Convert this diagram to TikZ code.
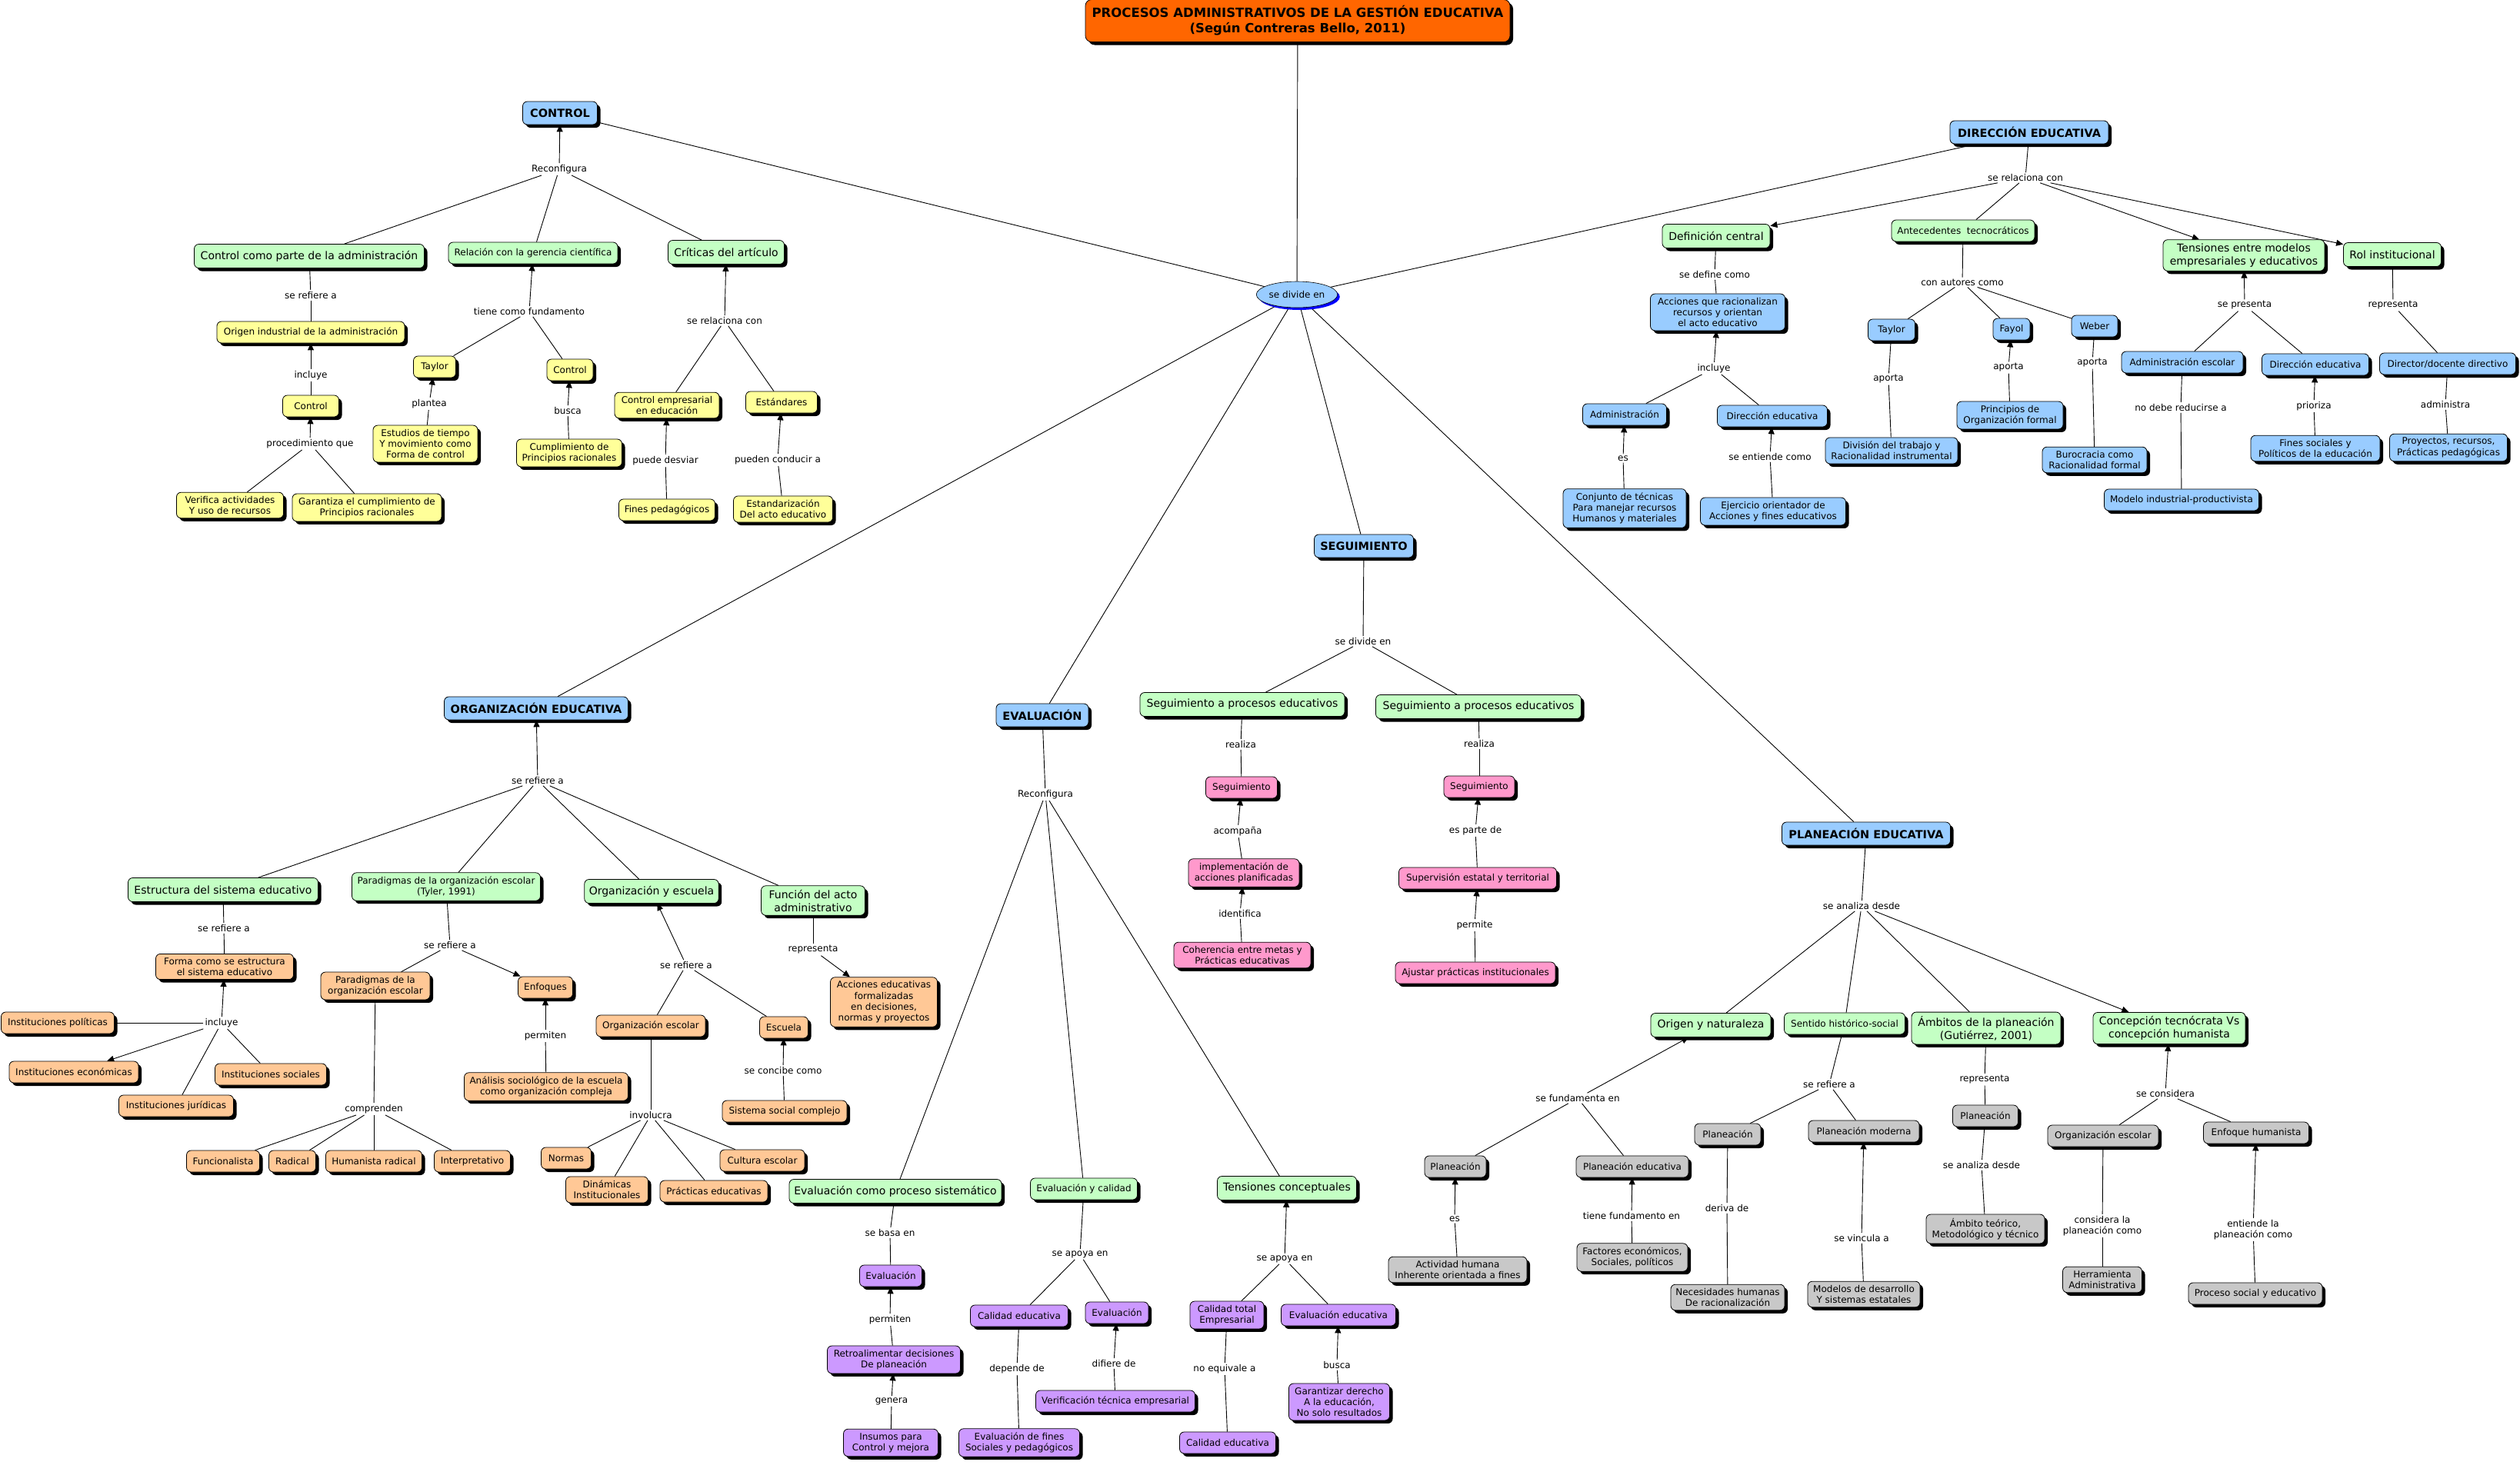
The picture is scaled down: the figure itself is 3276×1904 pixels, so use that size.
\documentclass[tikz,border=0pt]{standalone}
\usepackage{fontspec}
\setmainfont{DejaVu Sans}
\usetikzlibrary{shapes.geometric,arrows.meta,shadows,backgrounds}
\definecolor{cB}{HTML}{99CCFF}
\definecolor{cG}{HTML}{C4FFC4}
\definecolor{cY}{HTML}{FFFF99}
\definecolor{cO}{HTML}{FFC896}
\definecolor{cP}{HTML}{FF99CC}
\definecolor{cV}{HTML}{CC99FF}
\definecolor{cR}{HTML}{C8C8C8}
\definecolor{cT}{HTML}{FF6600}
\newcommand\fsm{\fontsize{12}{14.3}\selectfont}
\newcommand\fbg{\fontsize{14}{17}\selectfont}
\newcommand\fhd{\fontsize{14.5}{17}\selectfont\bfseries}
\newcommand\fti{\fontsize{16.5}{20}\selectfont\bfseries}
\tikzset{
 bx/.style={draw=black, line width=0.8pt, rounded corners=6pt, align=center,
   inner xsep=6pt, inner ysep=5pt, minimum height=28pt, font=\fsm,
   drop shadow={shadow xshift=4pt, shadow yshift=-4pt, opacity=1, fill=black}},
 fB/.style={fill=cB}, fG/.style={fill=cG}, fY/.style={fill=cY}, fO/.style={fill=cO},
 fP/.style={fill=cP}, fV/.style={fill=cV}, fR/.style={fill=cR},
 bg/.style={font=\fbg, minimum height=31pt},
 hd/.style={fill=cB, font=\fhd, minimum height=30pt},
 lbl/.style={font=\fsm, inner sep=2pt, align=center},
 lk/.style={draw=black, line width=0.9pt},
 arr/.style={lk, -{Triangle[length=9pt,width=8pt]}},
}
\newcommand\Nd[6][]{\node[bx,#1,minimum width=#5pt] (#2) at (#3,#4) {#6};}
\newcommand\Lbl[4]{\node[lbl] (#1) at (#2,#3) {#4};}
\newcommand\ConL[2]{\draw[lk] (#1) -- (#2);}
\newcommand\ConA[2]{\draw[arr] (#1) -- (#2);}
\begin{document}
\begin{tikzpicture}[x=1pt,y=-1pt]
\useasboundingbox (0,0) rectangle (3276,1904);
% ---------- title and hub
\node[bx, fill=cT, font=\fti, minimum width=552pt, minimum height=55pt, rounded corners=8pt] (title) at (1687,27) {PROCESOS ADMINISTRATIVOS DE LA GESTIÓN EDUCATIVA\\(Según Contreras Bello, 2011)};
\node[ellipse, draw=black, line width=0.6pt, fill=cB, font=\fsm, inner sep=1pt, minimum width=86pt, minimum height=34pt,
  drop shadow={shadow xshift=3pt, shadow yshift=-3pt, opacity=1, fill=blue}] (div) at (1686,383) {se divide en};
% ---------- main concepts
\Nd[hd]{ctrl}{728}{147}{97}{CONTROL}
\Nd[hd]{dir}{2638}{172}{206}{DIRECCIÓN EDUCATIVA}
\Nd[hd]{org}{697}{921}{239}{ORGANIZACIÓN EDUCATIVA}
\Nd[hd]{eval}{1355}{930}{120}{EVALUACIÓN}
\Nd[hd]{seg}{1773}{710}{129}{SEGUIMIENTO}
\Nd[hd]{plan}{2426}{1084}{219}{PLANEACIÓN EDUCATIVA}
% ---------- CONTROL
\Lbl{lc1}{727}{220}{Reconfigura}
\Nd[fG,bg]{ccpa}{402}{333}{299}{Control como parte de la administración}
\Nd[fG]{crgc}{693}{329}{220}{Relación con la gerencia científica}
\Nd[fG,bg]{ccrit}{944}{328}{151}{Críticas del artículo}
\Lbl{lc2}{404}{384}{se refiere a}
\Nd[fY]{coia}{404}{432}{244}{Origen industrial de la administración}
\Lbl{lc3}{404}{488}{incluye}
\Nd[fY]{cctlA}{404}{528}{73}{Control}
\Lbl{lc4}{403}{577}{procedimiento que}
\Nd[fY]{cver}{299}{657}{139}{Verifica actividades\\Y uso de recursos}
\Nd[fY]{cgar}{477}{660}{194}{Garantiza el cumplimiento de\\Principios racionales}
\Lbl{lc5}{688}{405}{tiene como fundamento}
\Nd[fY]{ctay}{565}{477}{55}{Taylor}
\Nd[fY]{cctlB}{741}{481}{60}{Control}
\Lbl{lc6}{558}{525}{plantea}
\Nd[fY]{cest}{553}{577}{136}{Estudios de tiempo\\Y movimiento como\\Forma de control}
\Lbl{lc7}{738}{534}{busca}
\Nd[fY]{ccum}{740}{589}{137}{Cumplimiento de\\Principios racionales}
\Lbl{lc8}{942}{417}{se relaciona con}
\Nd[fY]{ccee}{867}{527}{136}{Control empresarial\\en educación}
\Nd[fY]{cstd}{1016}{523}{93}{Estándares}
\Lbl{lc9}{865}{599}{puede desviar}
\Nd[fY]{cfp}{867}{663}{125}{Fines pedagógicos}
\Lbl{lc10}{1011}{598}{pueden conducir a}
\Nd[fY]{csta}{1018}{662}{129}{Estandarización\\Del acto educativo}
% ---------- DIRECCION
\Lbl{ld1}{2633}{231}{se relaciona con}
\Nd[fG,bg]{ddef}{2231}{307}{140}{Definición central}
\Nd[fG]{dant}{2552}{300}{186}{Antecedentes\ \ tecnocráticos}
\Nd[fG,bg]{dten}{2917}{332}{210}{Tensiones entre modelos\\empresariales y educativos}
\Nd[fG,bg]{drol}{3110}{331}{127}{Rol institucional}
\Lbl{ld2}{2229}{357}{se define como}
\Nd[fB]{dacc}{2233}{406}{175}{Acciones que racionalizan\\recursos y orientan\\el acto educativo}
\Lbl{ld3}{2228}{479}{incluye}
\Nd[fB]{dadm}{2112}{539}{109}{Administración}
\Nd[fB]{ddire}{2304}{541}{143}{Dirección educativa}
\Lbl{ld4}{2110}{596}{es}
\Nd[fB]{dconj}{2112}{661}{160}{Conjunto de técnicas\\Para manejar recursos\\Humanos y materiales}
\Lbl{ld5}{2301}{594}{se entiende como}
\Nd[fB]{dejer}{2305}{665}{189}{Ejercicio orientador de\\Acciones y fines educativos}
\Lbl{ld6}{2551}{367}{con autores como}
\Nd[fB]{dtay}{2459}{429}{61}{Taylor}
\Nd[fB]{dfay}{2615}{428}{48}{Fayol}
\Nd[fB]{dweb}{2723}{424}{60}{Weber}
\Lbl{ld7}{2455}{493}{aporta}
\Nd[fB]{ddiv}{2459}{586}{172}{División del trabajo y\\Racionalidad instrumental}
\Lbl{ld8}{2611}{478}{aporta}
\Nd[fB]{dpri}{2613}{540}{138}{Principios de\\Organización formal}
\Lbl{ld9}{2720}{472}{aporta}
\Nd[fB]{dbur}{2723}{598}{136}{Burocracia como\\Racionalidad formal}
\Lbl{ld10}{2918}{397}{se presenta}
\Nd[fB]{daes}{2837}{471}{158}{Administración escolar}
\Nd[fB]{ddirB}{3010}{474}{139}{Dirección educativa}
\Lbl{ld11}{2835}{530}{no debe reducirse a}
\Nd[fB]{dmod}{2836}{650}{201}{Modelo industrial-productivista}
\Lbl{ld12}{3008}{528}{prioriza}
\Nd[fB]{dfin}{3010}{583}{168}{Fines sociales y\\Políticos de la educación}
\Lbl{ld13}{3111}{397}{representa}
\Nd[fB]{ddoc}{3182}{473}{177}{Director/docente directivo}
\Lbl{ld14}{3179}{526}{administra}
\Nd[fB]{dpro}{3183}{582}{153}{Proyectos, recursos,\\Prácticas pedagógicas}
% ---------- ORGANIZACION
\Lbl{lo1}{699}{1015}{se refiere a}
\Nd[fG,bg]{oest}{290}{1157}{247}{Estructura del sistema educativo}
\Nd[fG]{opar}{580}{1153}{245}{Paradigmas de la organización escolar\\(Tyler, 1991)}
\Nd[fG,bg]{ooye}{847}{1159}{174}{Organización y escuela}
\Nd[fG,bg]{ofun}{1057}{1171}{135}{Función del acto\\administrativo}
\Lbl{lo2}{291}{1207}{se refiere a}
\Nd[fO]{oforma}{292}{1257}{179}{Forma como se estructura\\el sistema educativo}
\Lbl{lo3}{288}{1330}{incluye}
\Nd[fO]{oipol}{75}{1330}{147}{Instituciones políticas}
\Nd[fO]{oieco}{96}{1394}{168}{Instituciones económicas}
\Nd[fO]{oisoc}{352}{1397}{145}{Instituciones sociales}
\Nd[fO]{oijur}{229}{1438}{149}{Instituciones jurídicas}
\Lbl{lo4}{585}{1229}{se refiere a}
\Nd[fO]{oparB}{488}{1282}{142}{Paradigmas de la\\organización escolar}
\Nd[fO]{oenf}{709}{1284}{71}{Enfoques}
\Lbl{lo5}{709}{1347}{permiten}
\Nd[fO]{oana}{710}{1413}{213}{Análisis sociológico de la escuela\\como organización compleja}
\Lbl{lo6}{486}{1442}{comprenden}
\Nd[fO]{ofunc}{290}{1510}{95}{Funcionalista}
\Nd[fO]{orad}{380}{1510}{61}{Radical}
\Nd[fO]{ohum}{486}{1510}{125}{Humanista radical}
\Nd[fO]{oint}{614}{1510}{99}{Interpretativo}
\Lbl{lo7}{892}{1255}{se refiere a}
\Nd[fO]{oesco}{846}{1334}{142}{Organización escolar}
\Nd[fO]{oescu}{1019}{1336}{63}{Escuela}
\Lbl{lo8}{846}{1450}{involucra}
\Nd[fO]{onor}{736}{1506}{65}{Normas}
\Nd[fO]{odin}{789}{1547}{107}{Dinámicas\\Institucionales}
\Nd[fO]{opra}{928}{1549}{140}{Prácticas educativas}
\Nd[fO]{ocul}{991}{1509}{110}{Cultura escolar}
\Lbl{lo9}{1018}{1392}{se concibe como}
\Nd[fO]{osis}{1020}{1445}{162}{Sistema social complejo}
\Lbl{lo10}{1057}{1235}{representa}
\Nd[fO]{oacc}{1149}{1303}{139}{Acciones educativas\\formalizadas\\en decisiones,\\normas y proyectos}
% ---------- EVALUACION
\Lbl{le1}{1359}{1033}{Reconfigura}
\Nd[fG,bg]{esis}{1164}{1549}{276}{Evaluación como proceso sistemático}
\Nd[fG]{ecal}{1409}{1546}{139}{Evaluación y calidad}
\Nd[fG,bg]{eten}{1673}{1545}{181}{Tensiones conceptuales}
\Lbl{le2}{1157}{1603}{se basa en}
\Nd[fV]{eevA}{1158}{1659}{81}{Evaluación}
\Lbl{le3}{1157}{1716}{permiten}
\Nd[fV]{eret}{1162}{1768}{173}{Retroalimentar decisiones\\De planeación}
\Lbl{le4}{1159}{1822}{genera}
\Nd[fV]{eins}{1158}{1876}{123}{Insumos para\\Control y mejora}
\Lbl{le5}{1404}{1631}{se apoya en}
\Nd[fV]{eced}{1325}{1711}{127}{Calidad educativa}
\Nd[fV]{eevB}{1452}{1707}{82}{Evaluación}
\Lbl{le6}{1322}{1780}{depende de}
\Nd[fV]{eefs}{1325}{1876}{157}{Evaluación de fines\\Sociales y pedagógicos}
\Lbl{le7}{1448}{1773}{difiere de}
\Nd[fV]{ever}{1450}{1822}{207}{Verificación técnica empresarial}
\Lbl{le8}{1670}{1637}{se apoya en}
\Nd[fV]{ectot}{1595}{1710}{96}{Calidad total\\Empresarial}
\Nd[fV]{eeved}{1740}{1710}{149}{Evaluación educativa}
\Lbl{le9}{1592}{1780}{no equivale a}
\Nd[fV]{ecedB}{1596}{1876}{125}{Calidad educativa}
\Lbl{le10}{1738}{1775}{busca}
\Nd[fV]{egar}{1741}{1823}{131}{Garantizar derecho\\A la educación,\\No solo resultados}
% ---------- SEGUIMIENTO
\Lbl{ls1}{1772}{834}{se divide en}
\Nd[fG,bg]{sspA}{1615}{916}{266}{Seguimiento a procesos educativos}
\Nd[fG,bg]{sspB}{1922}{919}{267}{Seguimiento a procesos educativos}
\Lbl{ls2}{1613}{968}{realiza}
\Nd[fP]{ssegA}{1614}{1024}{93}{Seguimiento}
\Lbl{ls3}{1609}{1081}{acompaña}
\Nd[fP]{simp}{1617}{1135}{144}{implementación de\\acciones planificadas}
\Lbl{ls4}{1612}{1188}{identifica}
\Nd[fP]{scoh}{1615}{1242}{178}{Coherencia entre metas y\\Prácticas educativas}
\Lbl{ls5}{1923}{967}{realiza}
\Nd[fP]{ssegB}{1923}{1023}{92}{Seguimiento}
\Lbl{ls6}{1918}{1080}{es parte de}
\Nd[fP]{ssup}{1921}{1142}{205}{Supervisión estatal y territorial}
\Lbl{ls7}{1917}{1203}{permite}
\Nd[fP]{saju}{1918}{1265}{208}{Ajustar prácticas institucionales}
% ---------- PLANEACION
\Lbl{lp1}{2420}{1178}{se analiza desde}
\Nd[fG,bg]{pori}{2224}{1333}{156}{Origen y naturaleza}
\Nd[fG]{psen}{2398}{1331}{157}{Sentido histórico-social}
\Nd[fG,bg]{pamb}{2582}{1337}{194}{Ámbitos de la planeación\\(Gutiérrez, 2001)}
\Nd[fG,bg]{pcon}{2820}{1337}{198}{Concepción tecnócrata Vs\\concepción humanista}
\Lbl{lp2}{2051}{1428}{se fundamenta en}
\Nd[fR]{pplA}{1892}{1517}{80}{Planeación}
\Nd[fR]{pple}{2122}{1517}{146}{Planeación educativa}
\Lbl{lp3}{1891}{1585}{es}
\Nd[fR]{pact}{1895}{1651}{180}{Actividad humana\\Inherente orientada a fines}
\Lbl{lp4}{2121}{1581}{tiene fundamento en}
\Nd[fR]{pfac}{2122}{1635}{144}{Factores económicos,\\Sociales, políticos}
\Lbl{lp5}{2378}{1410}{se refiere a}
\Nd[fR]{pplB}{2246}{1475}{86}{Planeación}
\Nd[fR]{pmod}{2423}{1471}{144}{Planeación moderna}
\Lbl{lp6}{2245}{1571}{deriva de}
\Nd[fR]{pnec}{2246}{1687}{148}{Necesidades humanas\\De racionalización}
\Lbl{lp7}{2420}{1610}{se vincula a}
\Nd[fR]{pmds}{2423}{1683}{146}{Modelos de desarrollo\\Y sistemas estatales}
\Lbl{lp8}{2580}{1404}{representa}
\Nd[fR]{pplC}{2581}{1451}{85}{Planeación}
\Lbl{lp9}{2576}{1515}{se analiza desde}
\Nd[fR]{pate}{2581}{1598}{154}{Ámbito teórico,\\Metodológico y técnico}
\Lbl{lp10}{2815}{1422}{se considera}
\Nd[fR]{poes}{2734}{1477}{144}{Organización escolar}
\Nd[fR]{penh}{2933}{1473}{137}{Enfoque humanista}
\Lbl{lp11}{2733}{1594}{considera la\\planeación como}
\Nd[fR]{pher}{2733}{1664}{103}{Herramienta\\Administrativa}
\Lbl{lp12}{2929}{1599}{entiende la\\planeación como}
\Nd[fR]{ppse}{2932}{1682}{174}{Proceso social y educativo}
% ---------- connectors
\begin{pgfonlayer}{background}
\fill[white] (0,0) rectangle (3276,1904);
\ConL{title}{div}
\ConL{div}{ctrl} \ConL{div}{dir} \ConL{div}{org} \ConL{div}{eval} \ConL{div}{seg} \ConL{div}{plan}
% control
\ConA{lc1}{ctrl} \ConL{lc1}{ccpa} \ConL{lc1}{crgc} \ConL{lc1}{ccrit}
\ConL{ccpa}{lc2} \ConL{lc2}{coia}
\ConA{lc3}{coia} \ConL{cctlA}{lc3}
\ConA{lc4}{cctlA} \ConL{lc4}{cver} \ConL{lc4}{cgar}
\ConA{lc5}{crgc} \ConL{lc5}{ctay} \ConL{lc5}{cctlB}
\ConA{lc6}{ctay} \ConL{cest}{lc6}
\ConA{lc7}{cctlB} \ConL{ccum}{lc7}
\ConA{lc8}{ccrit} \ConL{lc8}{ccee} \ConL{lc8}{cstd}
\ConA{lc9}{ccee} \ConL{cfp}{lc9}
\ConA{lc10}{cstd} \ConL{csta}{lc10}
% direccion
\ConL{dir}{ld1} \ConA{ld1}{ddef} \ConL{ld1}{dant} \ConA{ld1}{dten} \ConA{ld1}{drol}
\ConL{ddef}{ld2} \ConL{ld2}{dacc}
\ConA{ld3}{dacc} \ConL{ld3}{dadm} \ConL{ld3}{ddire}
\ConA{ld4}{dadm} \ConL{dconj}{ld4}
\ConA{ld5}{ddire} \ConL{dejer}{ld5}
\ConL{dant}{ld6} \ConL{ld6}{dtay} \ConL{ld6}{dfay} \ConL{ld6}{dweb}
\ConL{dtay}{ld7} \ConL{ld7}{ddiv}
\ConA{ld8}{dfay} \ConL{dpri}{ld8}
\ConL{dweb}{ld9} \ConL{ld9}{dbur}
\ConA{ld10}{dten} \ConL{ld10}{daes} \ConL{ld10}{ddirB}
\ConL{daes}{ld11} \ConL{ld11}{dmod}
\ConA{ld12}{ddirB} \ConL{dfin}{ld12}
\ConL{drol}{ld13} \ConL{ld13}{ddoc}
\ConL{ddoc}{ld14} \ConL{ld14}{dpro}
% organizacion
\ConA{lo1}{org} \ConL{lo1}{oest} \ConL{lo1}{opar} \ConL{lo1}{ooye} \ConL{lo1}{ofun}
\ConL{oest}{lo2} \ConL{lo2}{oforma}
\ConA{lo3}{oforma} \ConL{lo3}{oipol} \ConA{lo3}{oieco} \ConL{lo3}{oisoc} \ConL{lo3}{oijur}
\ConL{opar}{lo4} \ConL{lo4}{oparB} \ConA{lo4}{oenf}
\ConA{lo5}{oenf} \ConL{oana}{lo5}
\ConL{oparB}{lo6} \ConL{lo6}{ofunc} \ConL{lo6}{orad} \ConL{lo6}{ohum} \ConL{lo6}{oint}
\ConA{lo7}{ooye} \ConL{lo7}{oesco} \ConL{lo7}{oescu}
\ConL{oesco}{lo8} \ConL{lo8}{onor} \ConL{lo8}{odin} \ConL{lo8}{opra} \ConL{lo8}{ocul}
\ConA{lo9}{oescu} \ConL{osis}{lo9}
\ConL{ofun}{lo10} \ConA{lo10}{oacc}
% evaluacion
\ConL{eval}{le1} \ConL{le1}{esis} \ConL{le1}{ecal} \ConL{le1}{eten}
\ConL{esis}{le2} \ConL{le2}{eevA}
\ConA{le3}{eevA} \ConL{eret}{le3}
\ConA{le4}{eret} \ConL{eins}{le4}
\ConL{ecal}{le5} \ConL{le5}{eced} \ConL{le5}{eevB}
\ConL{eced}{le6} \ConL{le6}{eefs}
\ConA{le7}{eevB} \ConL{ever}{le7}
\ConA{le8}{eten} \ConL{le8}{ectot} \ConL{le8}{eeved}
\ConL{ectot}{le9} \ConL{le9}{ecedB}
\ConA{le10}{eeved} \ConL{egar}{le10}
% seguimiento
\ConL{seg}{ls1} \ConL{ls1}{sspA} \ConL{ls1}{sspB}
\ConL{sspA}{ls2} \ConL{ls2}{ssegA}
\ConA{ls3}{ssegA} \ConL{simp}{ls3}
\ConA{ls4}{simp} \ConL{scoh}{ls4}
\ConL{sspB}{ls5} \ConL{ls5}{ssegB}
\ConA{ls6}{ssegB} \ConL{ssup}{ls6}
\ConA{ls7}{ssup} \ConL{saju}{ls7}
% planeacion
\ConL{plan}{lp1} \ConL{lp1}{pori} \ConL{lp1}{psen} \ConL{lp1}{pamb} \ConA{lp1}{pcon}
\ConA{lp2}{pori} \ConL{lp2}{pplA} \ConL{lp2}{pple}
\ConA{lp3}{pplA} \ConL{pact}{lp3}
\ConA{lp4}{pple} \ConL{pfac}{lp4}
\ConL{psen}{lp5} \ConL{lp5}{pplB} \ConL{lp5}{pmod}
\ConL{pplB}{lp6} \ConL{lp6}{pnec}
\ConA{lp7}{pmod} \ConL{pmds}{lp7}
\ConL{pamb}{lp8} \ConL{lp8}{pplC}
\ConL{pplC}{lp9} \ConL{lp9}{pate}
\ConA{lp10}{pcon} \ConL{lp10}{poes} \ConL{lp10}{penh}
\ConL{poes}{lp11} \ConL{lp11}{pher}
\ConA{lp12}{penh} \ConL{ppse}{lp12}
\end{pgfonlayer}
\end{tikzpicture}
\end{document}
